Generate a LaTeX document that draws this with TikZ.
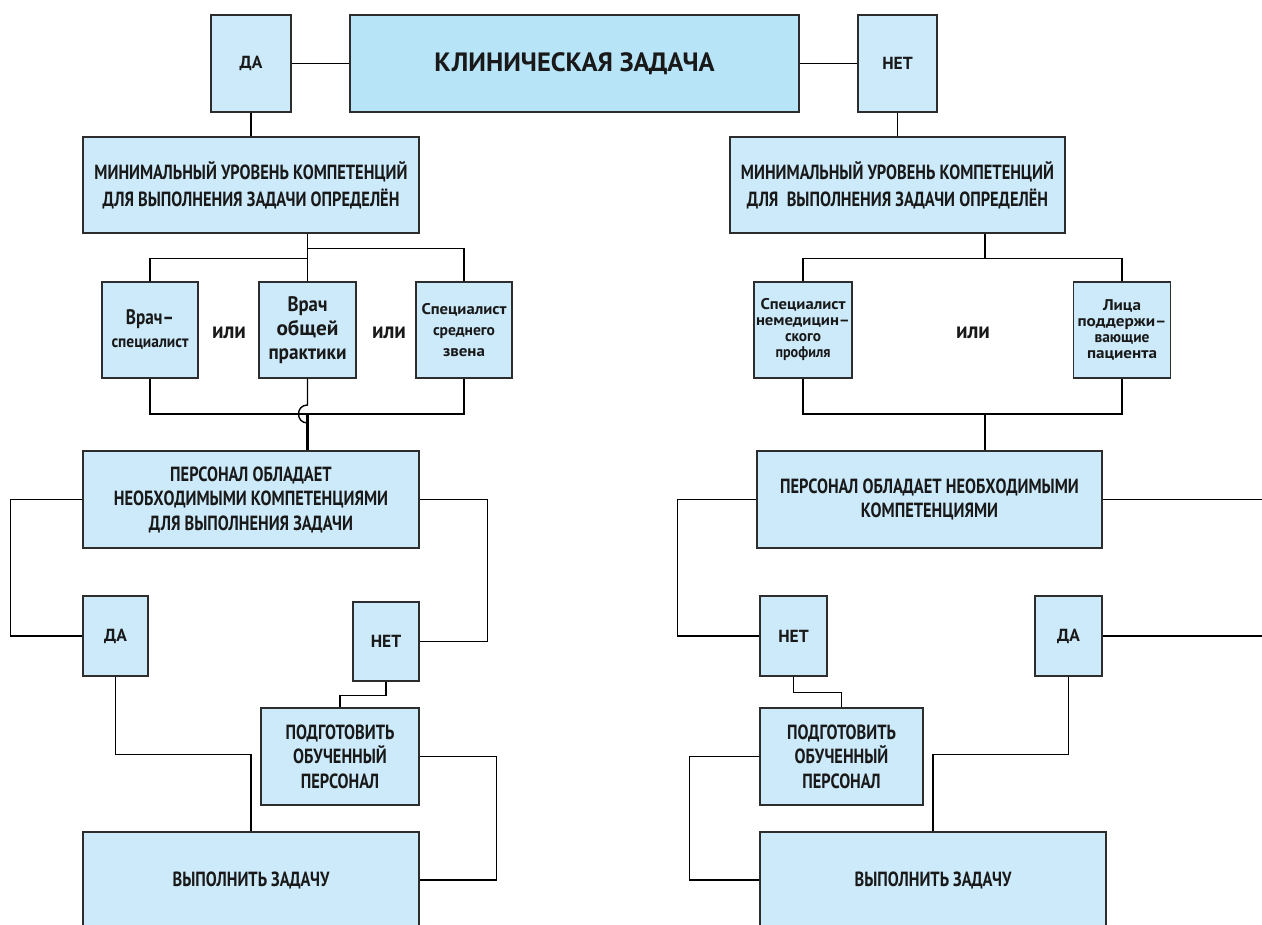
\documentclass[tikz,border=0pt]{standalone}
\usepackage{fontspec}
\usepackage{graphicx}
\usetikzlibrary{calc}
\setmainfont{PT Sans}
\newfontfamily\cf{PT Sans}[FakeStretch=0.8]
\newfontfamily\cw{PT Sans}
\newcommand\wl[2]{\resizebox{#1pt}{\height}{#2}}
\definecolor{boxfill}{RGB}{204,234,250}
\definecolor{titlefill}{RGB}{184,228,247}
\definecolor{boxline}{RGB}{45,45,45}
\tikzset{
  box/.style={draw=boxline, line width=1.4pt, fill=boxfill, align=center, inner sep=0pt, text=black!90},
  capsfont/.style={font=\cf\bfseries\fontsize{20.5}{26.7}\selectfont},
  capsmid/.style={font=\cf\bfseries\fontsize{20.5}{24.5}\selectfont},
  yesno/.style={font=\cw\bfseries\fontsize{17.5}{20}\selectfont},
  lowbig/.style={font=\cw\bfseries\fontsize{21}{24}\selectfont},
  lowsmall/.style={font=\cw\bfseries\fontsize{15.5}{16}\selectfont},
  lowmid/.style={font=\cw\bfseries\fontsize{15.5}{21}\selectfont},
  ornode/.style={font=\cw\bfseries\fontsize{23}{24}\selectfont, inner sep=0pt, text=black!90},
  ln/.style={line width=1.4pt, black},
  lnthick/.style={line width=2.6pt, black}
}
\begin{document}
\begin{tikzpicture}[x=1pt,y=-1pt]
\useasboundingbox (0,0) rectangle (1262,925);
\clip (0,0) rectangle (1262,925);
\fill[white] (0,0) rectangle (1262,925);

% top row
\node[box, yesno, minimum width=80pt, minimum height=97pt] (da1) at (251,63.5) {ДА};
\node[box, fill=titlefill, font=\cw\bfseries\fontsize{26.5}{30}\selectfont, minimum width=449pt, minimum height=97pt] (task) at (574.5,63.5) {КЛИНИЧЕСКАЯ ЗАДАЧА};
\node[box, yesno, minimum width=79pt, minimum height=97pt] (net1) at (897.5,63.5) {НЕТ};

% minimum level boxes
\node[box, capsfont, minimum width=336pt, minimum height=96pt] (minL) at (251,185) {МИНИМАЛЬНЫЙ УРОВЕНЬ КОМПЕТЕНЦИЙ\\ДЛЯ ВЫПОЛНЕНИЯ ЗАДАЧИ ОПРЕДЕЛЁН};
\node[box, capsfont, minimum width=335pt, minimum height=96pt] (minR) at (897.5,185) {МИНИМАЛЬНЫЙ УРОВЕНЬ КОМПЕТЕНЦИЙ\\ДЛЯ\ \ ВЫПОЛНЕНИЯ ЗАДАЧИ ОПРЕДЕЛЁН};

% staff options left
\node[box, lowbig, minimum width=96pt, minimum height=96pt] (vs) at (150,330) {\wl{48}{Врач–}\\[-1pt]{\fontsize{17}{20}\selectfont\wl{77}{специалист}}};
\node[box, lowbig, minimum width=97pt, minimum height=96pt] (vop) at (307.5,330) {\wl{40}{Врач}\\\wl{62}{общей}\\\wl{78}{практики}};
\node[box, lowmid, minimum width=96pt, minimum height=96pt] (ssz) at (464,330) {\wl{85}{Специалист}\\\wl{62}{среднего}\\\wl{42}{звена}};
\node[ornode] (or1) at (229,332.5) {\wl{34}{или}};
\node[ornode] (or2) at (389,332.5) {\wl{34}{или}};

% staff options right
\node[box, lowsmall, minimum width=98pt, minimum height=96pt] (nemed) at (803,330) {\wl{85}{Специалист}\\\wl{94}{немедицин–}\\\wl{36}{ского}\\\wl{55}{профиля}};
\node[box, lowsmall, minimum width=97pt, minimum height=96pt] (lica) at (1122,330) {\wl{38}{Лица}\\\wl{89}{поддержи–}\\\wl{55}{вающие}\\\wl{70}{пациента}};
\node[ornode] (or3) at (973,332.5) {\wl{34}{или}};

% personnel boxes
\node[box, capsmid, minimum width=336pt, minimum height=97pt] (persL) at (251,499.5) {ПЕРСОНАЛ ОБЛАДАЕТ\\НЕОБХОДИМЫМИ КОМПЕТЕНЦИЯМИ\\ДЛЯ ВЫПОЛНЕНИЯ ЗАДАЧИ};
\node[box, capsmid, minimum width=345pt, minimum height=97pt] (persR) at (929.5,499.5) {ПЕРСОНАЛ ОБЛАДАЕТ НЕОБХОДИМЫМИ\\КОМПЕТЕНЦИЯМИ};

% yes/no second level
\node[box, yesno, minimum width=65pt, minimum height=80pt] (daL) at (115.5,636) {ДА};
\node[box, yesno, minimum width=66pt, minimum height=79pt] (netL) at (386,641.5) {НЕТ};
\node[box, yesno, minimum width=67pt, minimum height=80pt] (netR) at (793.5,636) {НЕТ};
\node[box, yesno, minimum width=67pt, minimum height=80pt] (daR) at (1068.5,636) {ДА};

% prepare staff
\node[box, capsmid, minimum width=158pt, minimum height=97pt] (podL) at (340,756.5) {ПОДГОТОВИТЬ\\ОБУЧЕННЫЙ\\ПЕРСОНАЛ};
\node[box, capsmid, minimum width=163pt, minimum height=97pt] (podR) at (841.5,756.5) {ПОДГОТОВИТЬ\\ОБУЧЕННЫЙ\\ПЕРСОНАЛ};

% execute task
\node[box, capsmid, minimum width=336pt, minimum height=96pt] (vypL) at (251,880) {ВЫПОЛНИТЬ ЗАДАЧУ};
\node[box, capsmid, minimum width=346pt, minimum height=96pt] (vypR) at (933,880) {ВЫПОЛНИТЬ ЗАДАЧУ};

% helper coordinates
\coordinate (jumpTop) at (307.5,405);
\coordinate (jumpBot) at (307.5,423);
\coordinate (barL) at (307.5,414);
\coordinate (barR) at (985,414);
\coordinate (offR1) at (1275,499.5);
\coordinate (offR2) at (1275,636);

% connectors top
\draw[ln] (da1.east) -- (task.west);
\draw[ln] (task.east) -- (net1.west);
\draw[ln] (da1.south) -- (minL.north);
\draw[ln] (net1.south) -- (minR.north);

% left branching
\draw[ln] (minL.south -| vop.north) -- (vop.north);
\draw[ln] (vs.north) |- ($(minL.south -| vop.north)+(0,25)$);
\draw[ln] (ssz.north) |- ($(minL.south -| vop.north)+(0,15)$);
\draw[ln] (vs.south) |- (barL) -| (ssz.south);
\draw[ln] (vop.south) -- (jumpTop) .. controls (295.5,405) and (295.5,423) .. (jumpBot);
\draw[lnthick] (barL) -- (persL.north -| barL);

% right branching
\draw[ln] (minR.south -| barR) -- ++(0,25) coordinate (brR);
\draw[ln] (nemed.north) |- (brR) -| (lica.north);
\draw[ln] (nemed.south) |- (barR) -| (lica.south);
\draw[ln] (barR) -- (persR.north -| barR);

% left lower part
\draw[ln] (persL.west) -- ++(-72,0) |- (daL.west);
\draw[ln] (persL.east) -- ++(68,0) |- (netL.east);
\draw[ln] (daL.south) -- ++(0,78) -| (vypL.north);
\draw[ln] (netL.south) -- ++(0,13.5) -| (podL.north);
\draw[ln] (podL.east) -- ++(77,0) |- (vypL.east);

% right lower part
\draw[ln] (persR.west) -- ++(-79,0) |- (netR.west);
\draw[ln] (persR.east) -- (offR1);
\draw[ln] (daR.east) -- (offR2);
\draw[ln] (netR.south) -- ++(0,16) -| (podR.north);
\draw[ln] (podR.west) -- ++(-70,0) |- (vypR.west);
\draw[ln] (daR.south) -- ++(0,78) -| (vypR.north);
\end{tikzpicture}
\end{document}
